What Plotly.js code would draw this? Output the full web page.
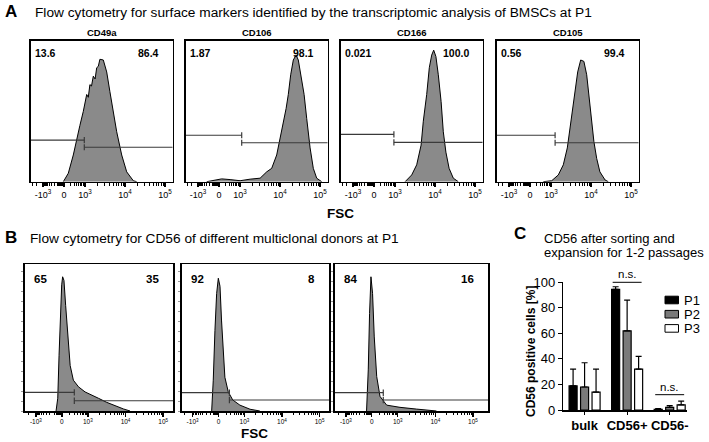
<!DOCTYPE html>
<html><head><meta charset="utf-8">
<script src="https://cdn.plot.ly/plotly-3.0.1.min.js"></script>
<style>html,body{margin:0;padding:0;background:#fff}#chart{width:709px;height:442px}</style>
</head><body><div id="chart"></div>
<script>
// ---------- Panel A: surface markers ----------
const markersA = ["CD49a", "CD106", "CD166", "CD105"];
const negPctA = ["13.6", "1.87", "0.021", "0.56"];
const posPctA = ["86.4", "98.1", "100.0", "99.4"];
// x in display (biexponential) units: 10^3=3, 10^4=4, 10^5=5 ; y = relative count
const cd49aX = [2.455,2.58,2.705,2.79,2.87,2.955,3.04,3.08,3.12,3.16,3.205,3.25,3.29,3.33,3.37,3.455,3.54,3.62,3.705,3.79,3.915,4.04,4.205,4.29];
const cd49aY = [0,0.06,0.19,0.31,0.40,0.50,0.62,0.60,0.69,0.68,0.75,0.73,0.81,0.82,0.87,0.865,0.78,0.64,0.50,0.355,0.19,0.07,0.007,0];
const cd106X = [2.165,2.33,2.54,2.75,3.0,3.25,3.5,3.665,3.79,3.915,4.04,4.15,4.205,4.265,4.33,4.40,4.455,4.515,4.6,4.665,4.75,4.83,4.915,5.04];
const cd106Y = [0,0.01,0.02,0.015,0.007,0.018,0.025,0.07,0.095,0.19,0.355,0.52,0.62,0.76,0.865,0.90,0.865,0.76,0.62,0.45,0.24,0.095,0.025,0];
const cd166X = [3.25,3.415,3.54,3.65,3.705,3.79,3.855,3.915,3.965,4.02,4.08,4.15,4.205,4.27,4.35,4.455,4.58];
const cd166Y = [0,0.048,0.12,0.26,0.43,0.62,0.81,0.90,0.935,0.89,0.76,0.57,0.355,0.21,0.095,0.025,0];
const cd105X = [2.805,3.015,3.18,3.305,3.405,3.47,3.54,3.6,3.665,3.74,3.82,3.89,3.955,4.015,4.07,4.14,4.22,4.35,4.43];
const cd105Y = [0,0.007,0.048,0.12,0.24,0.38,0.52,0.66,0.78,0.865,0.855,0.76,0.57,0.43,0.285,0.165,0.07,0.012,0];
const gateSplitA = [2.98, 3.04, 2.97, 3.10];
const gateLeftA = [0.296, 0.33, 0.337, 0.33];
const gateRightA = [0.245, 0.277, 0.28, 0.277];

// ---------- Panel B: CD56 donors ----------
const donorNeg = ["65", "92", "84"];
const donorPos = ["35", "8", "16"];
const donor1X = [2.155,2.2,2.235,2.27,2.305,2.33,2.365,2.41,2.465,2.53,2.615,2.75,2.925,3.105,3.28,3.5,3.72,3.945,4.12];
const donor1Y = [0,0.087,0.38,0.65,0.86,0.915,0.89,0.72,0.495,0.31,0.21,0.165,0.13,0.11,0.087,0.059,0.036,0.014,0];
const donor2X = [2.128,2.17,2.215,2.26,2.305,2.35,2.39,2.435,2.48,2.57,2.69,2.88,3.15,3.41];
const donor2Y = [0,0.21,0.55,0.80,0.905,0.85,0.62,0.39,0.23,0.13,0.075,0.04,0.012,0];
const donor3X = [2.17,2.215,2.25,2.287,2.33,2.375,2.44,2.527,2.705,3.06,3.5,3.855,4.03];
const donor3Y = [0,0.28,0.665,0.915,0.80,0.505,0.235,0.1,0.04,0.025,0.013,0.004,0];
const gateSplitB = [2.64, 2.6, 2.615];
const gateLeftB = [0.127, 0.125, 0.125];
const gateRightB = [0.07, 0.075, 0.075];

// tick labels
const tickTextA = ["-10<sup>3</sup>", "0", "10<sup>3</sup>", "10<sup>4</sup>", "10<sup>5</sup>"];
const tickTextB = ["-10<sup>3</sup>", "0", "10<sup>3</sup>", "10<sup>4</sup>", "10<sup>5</sup>"];

// ---------- Panel C: bar chart ----------
const groups = ["bulk", "CD56+", "CD56-"];
const passages = ["P1", "P2", "P3"];
const p1Vals = [19, 94.5, 0.5];
const p1Err = [13, 2, 0.5];
const p2Vals = [18, 62, 2];
const p2Err = [19, 24, 1.5];
const p3Vals = [14, 32, 4];
const p3Err = [18, 10, 3];
const nsGroupIdx = [1, 2];
const nsLevels = [100, 12];

// ---------- geometry helpers ----------
const W = 709, H = 442;
const PX = v => v / W, PY = v => 1 - v / H;
const boxA = {left: [30.7, 185.7, 340.7, 496.7], width: 142, top: 41, bottom: 181.7};
const boxB = {left: [25, 181.7, 335], right: [173.3, 329.3, 488.3], top: 264.3, bottom: 411};
const zeroA = 2.475, negA = 1.95, rangeA = [1.64, 5.19];
const zeroB = 2.31, negB = 1.62;
const rangesB = [[1.33, 5.27], [1.33, 5.26], [1.33, 5.41]];
const font = 'Liberation Sans, Arial, Helvetica, sans-serif';

function minorTicks(zero) {
  const out = [];
  const lin = 3 - zero;
  for (let k = 2; k <= 9; k++) {
    out.push(zero + lin * Math.log10(k));
    out.push(zero - lin * Math.log10(k));
    out.push(3 + Math.log10(k));
    out.push(4 + Math.log10(k));
  }
  for (let i = 1; i <= 6; i++) out.push(zero - 0.022 * i);
  out.push(zero - lin * 1.3, zero - lin * 1.5);
  return out;
}

const traces = [];
const layout = {
  width: W, height: H, margin: {l: 0, r: 0, t: 0, b: 0},
  paper_bgcolor: '#fff', plot_bgcolor: '#fff', showlegend: false,
  font: {family: font, color: '#000'},
  annotations: [], shapes: []
};
const ann = (x, y, text, size, opts) => layout.annotations.push(Object.assign({
  xref: 'paper', yref: 'paper', x: PX(x), y: PY(y), text: text, showarrow: false,
  xanchor: 'center', yanchor: 'middle', font: {size: size, family: font, color: '#000'}
}, opts || {}));

function histPanel(idx, xs, ys, xdom, ydom, range, tickvals, ticktext, tickSize, split, gl, gr, yTicks, zero) {
  const xa = 'x' + idx, ya = 'y' + idx;
  traces.push({type: 'scatter', mode: 'lines', x: xs, y: ys, xaxis: xa, yaxis: ya,
    fill: 'tozeroy', fillcolor: '#8a8a8a', line: {color: '#000', width: 1}, hoverinfo: 'skip'});
  const c = 0.022;
  traces.push({type: 'scatter', mode: 'lines', xaxis: xa, yaxis: ya, hoverinfo: 'skip',
    x: [range[0], split, null, split, split, null, split, range[1], null, split, split],
    y: [gl, gl, null, gl - c, gl + c, null, gr, gr, null, gr - c, gr + c],
    line: {color: '#3a3a3a', width: 1.2}});
  layout['xaxis' + idx] = {domain: xdom, range: range, anchor: ya, tickmode: 'array',
    tickvals: tickvals, ticktext: ticktext, ticks: 'outside', ticklen: 4, tickwidth: 1.3, tickcolor: '#000',
    showline: true, linewidth: 1.6, linecolor: '#000', mirror: true, showgrid: false, zeroline: false,
    tickfont: {size: tickSize, family: font, color: '#000'},
    minor: {tickvals: minorTicks(zero), ticks: 'outside', ticklen: 2.5, tickwidth: 1, tickcolor: '#000', showgrid: false},
    fixedrange: true};
  layout['yaxis' + idx] = {domain: ydom, range: [0, 1], anchor: xa, showline: true, linewidth: 1.6,
    linecolor: '#000', mirror: true, showgrid: false, zeroline: false, showticklabels: false,
    ticks: yTicks ? 'outside' : '', ticklen: 2, tickcolor: '#999', tickwidth: 1, dtick: 0.068, tick0: 0,
    fixedrange: true};
}

// Panel A
const histA = [[cd49aX, cd49aY], [cd106X, cd106Y], [cd166X, cd166Y], [cd105X, cd105Y]];
histA.forEach((h, i) => {
  const l = boxA.left[i], r = l + boxA.width;
  histPanel(i + 1, h[0], h[1], [PX(l), PX(r)], [PY(boxA.bottom), PY(boxA.top)], rangeA,
    [negA, zeroA, 3, 4, 5], tickTextA, 9, gateSplitA[i], gateLeftA[i], gateRightA[i], false, zeroA);
  ann((l + r) / 2, 33, '<b>' + markersA[i] + '</b>', 9.5);
  ann(l + 2, 53, '<b>' + negPctA[i] + '</b>', 10.5, {xanchor: 'left'});
  ann(r - 12, 53, '<b>' + posPctA[i] + '</b>', 10.5, {xanchor: 'right'});
});
// Panel B
const histB = [[donor1X, donor1Y], [donor2X, donor2Y], [donor3X, donor3Y]];
histB.forEach((h, i) => {
  const l = boxB.left[i], r = boxB.right[i];
  histPanel(i + 5, h[0], h[1], [PX(l), PX(r)], [PY(boxB.bottom), PY(boxB.top)], rangesB[i],
    [negB, zeroB, 3, 4, 5], tickTextB, 6.5, gateSplitB[i], gateLeftB[i], gateRightB[i], true, zeroB);
  ann(l + 7, 279, '<b>' + donorNeg[i] + '</b>', 11.5, {xanchor: 'left'});
  ann(r - 12, 279, '<b>' + donorPos[i] + '</b>', 11.5, {xanchor: 'right'});
});

// Panel C bars
const barColors = ['#000000', '#7a7a7a', '#ffffff'];
const vals = [p1Vals, p2Vals, p3Vals], errs = [p1Err, p2Err, p3Err];
passages.forEach((p, i) => {
  traces.push({type: 'bar', name: p, x: groups, y: vals[i], xaxis: 'x8', yaxis: 'y8',
    marker: {color: barColors[i], line: {color: '#000', width: 1.2}},
    error_y: {type: 'data', symmetric: false, array: errs[i], arrayminus: [0, 0, 0],
      color: '#000', thickness: 1.2, width: 3}, hoverinfo: 'skip'});
});
const cDomY = [PY(410), PY(282.3)];
layout.barmode = 'group';
layout.bargap = 0.19;
layout.bargroupgap = 0.3;
layout.xaxis8 = {domain: [PX(563.3), PX(686.7)], anchor: 'y8', type: 'category', range: [-0.5, 2.4],
  showline: true, linewidth: 1.5, linecolor: '#000', ticks: 'outside', ticklen: 3, tickcolor: '#000',
  tickfont: {size: 13, family: font, weight: 'bold', color: '#000'}, showgrid: false, zeroline: false, fixedrange: true};
layout.yaxis8 = {domain: cDomY, anchor: 'x8', range: [0, 100], dtick: 20, ticks: 'outside', ticklen: 4,
  tickcolor: '#000', showline: true, linewidth: 1.5, linecolor: '#000', showgrid: false, zeroline: false,
  tickfont: {size: 13, family: font, color: '#000'}, fixedrange: true};
// n.s. brackets
nsGroupIdx.forEach((g, k) => {
  const yp = cDomY[0] + (nsLevels[k] / 100) * (cDomY[1] - cDomY[0]);
  layout.shapes.push({type: 'line', xref: 'x8', yref: 'paper', x0: g - 0.34, x1: g + 0.34, y0: yp, y1: yp,
    line: {color: '#000', width: 1}});
  layout.annotations.push({xref: 'x8', yref: 'paper', x: g, y: yp, text: 'n.s.', showarrow: false,
    xanchor: 'center', yanchor: 'bottom', font: {size: 11.5, family: font, color: '#000'}});
});
// legend (manual)
passages.forEach((p, i) => {
  const cy = 300 + i * 14.2;
  layout.shapes.push({type: 'rect', xref: 'paper', yref: 'paper', x0: PX(665), x1: PX(678.5),
    y0: PY(cy + 3.8), y1: PY(cy - 3.8), fillcolor: barColors[i], line: {color: '#000', width: 1}});
  ann(682, cy, p, 13, {xanchor: 'left'});
});

// Texts
ann(3, 11, '<b>A</b>', 17, {xanchor: 'left'});
ann(33, 12, 'Flow cytometry for surface markers identified by the transcriptomic analysis of BMSCs at P1', 13.7, {xanchor: 'left'});
ann(340, 213, '<b>FSC</b>', 13.5);
ann(3, 237, '<b>B</b>', 17, {xanchor: 'left'});
ann(28, 238, 'Flow cytometry for CD56 of different multiclonal donors at P1', 13.7, {xanchor: 'left'});
ann(254, 433, '<b>FSC</b>', 13.5);
ann(512, 233, '<b>C</b>', 17, {xanchor: 'left'});
ann(541.5, 238.5, 'CD56 after sorting and', 13, {xanchor: 'left'});
ann(541.5, 252, 'expansion for 1-2 passages', 13, {xanchor: 'left'});
ann(531, 352, '<b>CD56 positive cells [%]</b>', 12, {textangle: -90});

Plotly.newPlot('chart', traces, layout, {staticPlot: true, displayModeBar: false});
</script>
</body></html>
